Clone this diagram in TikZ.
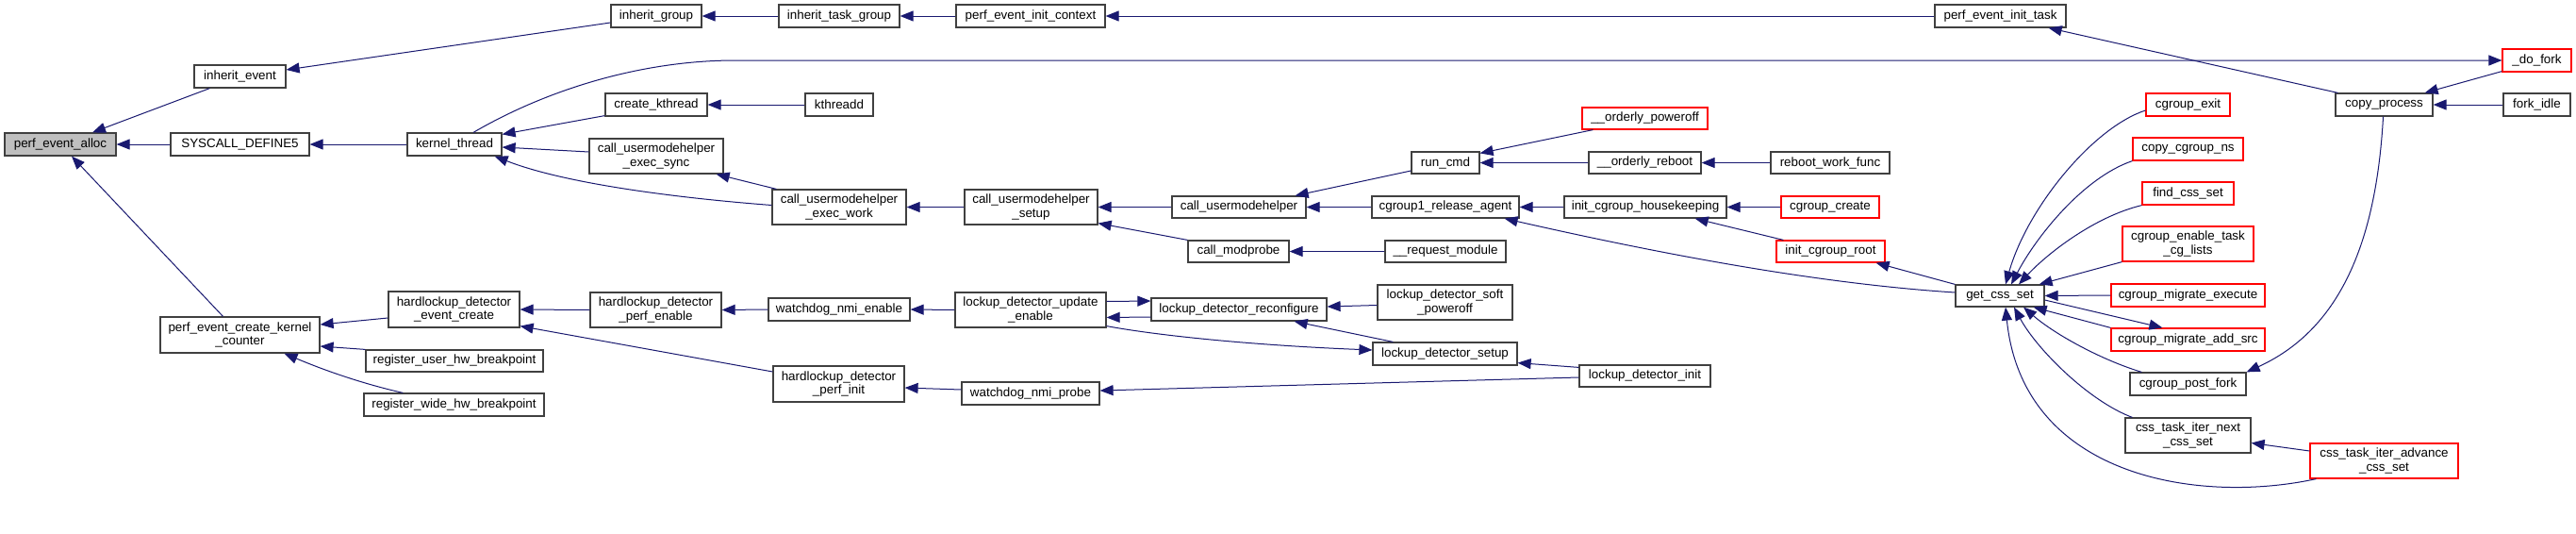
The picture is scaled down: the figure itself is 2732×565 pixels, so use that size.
\documentclass[tikz,border=0pt]{standalone}
\usepackage{fontspec}
\setmainfont{Liberation Sans}
\usetikzlibrary{arrows.meta,calc}
\definecolor{edgec}{HTML}{191970}
\definecolor{boxc}{HTML}{404040}
\definecolor{fillc}{HTML}{BFBFBF}
\newcommand\gn[7]{\node[#2, minimum width=#5pt, minimum height=#6pt] (#1) at (#3,#4) {#7};}
\tikzset{
 box/.style={draw=boxc, line width=1.2pt, inner sep=0pt, font=\fontsize{13.4}{14.5}\selectfont, align=center, fill=white},
 hl/.style={box, fill=fillc},
 rbox/.style={box, draw=red},
 arr/.style={draw=edgec, line width=1pt, -{Triangle[length=14pt,width=11pt]}},
}
\begin{document}
\begin{tikzpicture}[x=1pt,y=-1pt]
\useasboundingbox[fill=white] (0,0) rectangle (2732,565);
% column 1
\gn{pea}{hl}{64}{153}{118}{24}{perf\_event\_alloc}
% column 2
\gn{ie}{box}{254.5}{81}{97}{24}{inherit\_event}
\gn{sys}{box}{254.5}{153}{147}{24}{SYSCALL\_DEFINE5}
\gn{pekc}{box}{254.5}{355}{169}{38}{perf\_event\_create\_kernel\\\_counter}
% column 3
\gn{kt}{box}{482}{153}{100}{24}{kernel\_thread}
\gn{hdec}{box}{481.5}{328}{139}{38}{hardlockup\_detector\\\_event\_create}
\gn{ruhb}{box}{482}{382.5}{188}{23}{register\_user\_hw\_breakpoint}
\gn{rwhb}{box}{481.5}{429}{191}{24}{register\_wide\_hw\_breakpoint}
% column 4
\gn{ig}{box}{696}{17}{96}{24}{inherit\_group}
\gn{ck}{box}{696}{111}{108}{24}{create\_kthread}
\gn{cues}{box}{696}{165.5}{142}{37}{call\_usermodehelper\\\_exec\_sync}
\gn{hdpe}{box}{695.5}{328.5}{139}{37}{hardlockup\_detector\\\_perf\_enable}
% column 5
\gn{itg}{box}{890}{17}{128}{24}{inherit\_task\_group}
\gn{kd}{box}{890}{111}{72}{24}{kthreadd}
\gn{cuew}{box}{890}{219.5}{142}{37}{call\_usermodehelper\\\_exec\_work}
\gn{wne}{box}{890}{328}{150}{24}{watchdog\_nmi\_enable}
\gn{hdpi}{box}{889.5}{407}{139}{38}{hardlockup\_detector\\\_perf\_init}
% column 6
\gn{peic}{box}{1093}{17}{158}{24}{perf\_event\_init\_context}
\gn{cus}{box}{1093.5}{219.5}{141}{37}{call\_usermodehelper\\\_setup}
\gn{ldue}{box}{1093}{328.5}{160}{37}{lockup\_detector\_update\\\_enable}
\gn{wnp}{box}{1093}{417}{146}{24}{watchdog\_nmi\_probe}
% column 7
\gn{cu}{box}{1314}{219.5}{142}{23}{call\_usermodehelper}
\gn{cm}{box}{1313.5}{266.5}{107}{23}{call\_modprobe}
\gn{ldr}{box}{1314}{328}{186}{24}{lockup\_detector\_reconfigure}
% column 8
\gn{rc}{box}{1533}{172.5}{72}{23}{run\_cmd}
\gn{cra}{box}{1533}{219.5}{156}{23}{cgroup1\_release\_agent}
\gn{rm}{box}{1533}{266.5}{128}{23}{\_\_request\_module}
\gn{ldsp}{box}{1532.5}{320.5}{143}{37}{lockup\_detector\_soft\\\_poweroff}
\gn{lds}{box}{1532.5}{375}{153}{24}{lockup\_detector\_setup}
% column 9
\gn{op}{rbox}{1744.5}{125.5}{133}{23}{\_\_orderly\_poweroff}
\gn{orb}{box}{1744.5}{172.5}{119}{23}{\_\_orderly\_reboot}
\gn{ich}{box}{1745}{219.5}{172}{23}{init\_cgroup\_housekeeping}
\gn{ldi}{box}{1744.5}{398.5}{139}{23}{lockup\_detector\_init}
% column 10
\gn{rwf}{box}{1941}{172.5}{126}{23}{reboot\_work\_func}
\gn{cc}{rbox}{1941}{219.5}{104}{23}{cgroup\_create}
\gn{icr}{rbox}{1941.5}{266.5}{115}{23}{init\_cgroup\_root}
% column 11
\gn{peit}{box}{2121.5}{17}{139}{24}{perf\_event\_init\_task}
\gn{gcs}{box}{2121}{313.5}{94}{23}{get\_css\_set}
% column 12
\gn{ce}{rbox}{2320.5}{111}{89}{24}{cgroup\_exit}
\gn{ccn}{rbox}{2320.5}{158}{117}{24}{copy\_cgroup\_ns}
\gn{fcs}{rbox}{2320.5}{205}{97}{24}{find\_css\_set}
\gn{cetcl}{rbox}{2320.5}{258.5}{139}{37}{cgroup\_enable\_task\\\_cg\_lists}
\gn{cme}{rbox}{2320.5}{313}{163}{24}{cgroup\_migrate\_execute}
\gn{cmas}{rbox}{2320.5}{360}{163}{24}{cgroup\_migrate\_add\_src}
\gn{cpf}{box}{2320.5}{407}{123}{24}{cgroup\_post\_fork}
\gn{ctin}{box}{2320.5}{461.5}{133}{37}{css\_task\_iter\_next\\\_css\_set}
% column 13
\gn{cp}{box}{2528.5}{111}{103}{24}{copy\_process}
\gn{ctia}{rbox}{2528.5}{488.5}{157}{37}{css\_task\_iter\_advance\\\_css\_set}
% column 14
\gn{df}{rbox}{2690.5}{64}{73}{24}{\_do\_fork}
\gn{fi}{box}{2690.5}{111}{71}{24}{fork\_idle}

% edges
\draw[arr] ($(ie.south west)+(17,0)$) -- ($(pea.north)+(34,0)$);
\draw[arr] (sys.west) -- (pea.east);
\draw[arr] ($(pekc.north)+(-18,0)$) -- ($(pea.south)+(12,0)$);
\draw[arr] ($(ig.west)+(0,7)$) -- ($(ie.east)+(0,-7)$);
\draw[arr] (itg.west) -- (ig.east);
\draw[arr] (peic.west) -- (itg.east);
\draw[arr] (peit.west) -- (peic.east);
\draw[arr] ($(cp.north west)+(3,0)$) -- ($(peit.south east)+(-19,0)$);
\draw[arr] ($(df.south west)+(0,-1)$) -- ($(cp.north east)+(-9,0)$);
\draw[arr] (fi.west) -- (cp.east);
\draw[arr] (kt.west) -- (sys.east);
\draw[arr] ($(kt.north)+(20,0)$) .. controls (580,95) and (680,64) .. (780,64) -- (df.west);
\draw[arr] ($(ck.south west)+(0,-1)$) -- ($(kt.north east)+(0,2)$);
\draw[arr] ($(cues.west)+(0,-4.5)$) -- ($(kt.east)+(0,3)$);
\draw[arr] ($(cuew.west)+(0,-2)$) .. controls (720,210) and (600,195) .. ($(kt.south east)+(-8,0)$);
\draw[arr] (kd.west) -- (ck.east);
\draw[arr] ($(cuew.north west)+(5,0)$) -- ($(cues.south east)+(-8,0)$);
\draw[arr] (cus.west) -- (cuew.east);
\draw[arr] (cu.west) -- (cus.east);
\draw[arr] (cm.north west) -- ($(cus.south east)+(0,-2)$);
\draw[arr] ($(rc.west)+(0,8.5)$) -- ($(cu.north east)+(-12,0)$);
\draw[arr] (cra.west) -- (cu.east);
\draw[arr] (rm.west) -- (cm.east);
\draw[arr] ($(op.south west)+(12,0)$) -- ($(rc.north east)+(0,2)$);
\draw[arr] (orb.west) -- (rc.east);
\draw[arr] (rwf.west) -- (orb.east);
\draw[arr] (ich.west) -- (cra.east);
\draw[arr] ($(gcs.west)+(0,-3.5)$) .. controls (1950,302) and (1800,278) .. ($(cra.south east)+(-16,0)$);
\draw[arr] (cc.west) -- (ich.east);
\draw[arr] ($(icr.north west)+(8,0)$) -- ($(ich.south east)+(-34,0)$);
\draw[arr] (gcs.north west) -- ($(icr.south east)+(-10,0)$);
% get_css_set callers
\draw[arr] ($(ce.west)+(0,6)$) .. controls (2220,135) and (2150,220) .. ($(gcs.north)+(6,0)$);
\draw[arr] (ccn.south west) .. controls (2210,188) and (2160,250) .. ($(gcs.north)+(12,0)$);
\draw[arr] (fcs.south west) .. controls (2220,230) and (2170,270) .. ($(gcs.north)+(20,0)$);
\draw[arr] (cetcl.south west) -- ($(gcs.north east)+(-6,0)$);
\draw[arr] (cme.west) -- (gcs.east);
\draw[arr] ($(gcs.east)+(0,4.5)$) -- ($(cmas.north west)+(55,0)$);
\draw[arr] (cmas.north west) -- ($(gcs.south east)+(-12,0)$);
\draw[arr] ($(cpf.north west)+(13,0)$) .. controls (2230,382) and (2180,355) .. ($(gcs.south)+(25,0)$);
\draw[arr] ($(ctin.north west)+(8,0)$) .. controls (2215,425) and (2160,370) .. ($(gcs.south)+(15,0)$);
\draw[arr] ($(ctia.south west)+(7,0)$) .. controls (2330,535) and (2145,505) .. ($(gcs.south)+(6,0)$);
\draw[arr] ($(cp.south)+(-1,0)$) .. controls (2520,260) and (2480,350) .. (cpf.north east);
\draw[arr] ($(ctia.west)+(0,-10.5)$) -- ($(ctin.east)+(0,8)$);
% lower part
\draw[arr] ($(hdec.west)+(0,9)$) -- ($(pekc.east)+(0,-11)$);
\draw[arr] (ruhb.north west) -- ($(pekc.east)+(0,12)$);
\draw[arr] ($(rwhb.north west)+(42,0)$) .. controls (390,408) and (350,395) .. ($(pekc.south)+(47,0)$);
\draw[arr] (hdpe.west) -- (hdec.east);
\draw[arr] ($(hdpi.west)+(0,-13)$) -- ($(hdec.south east)+(0,-2)$);
\draw[arr] (wne.west) -- (hdpe.east);
\draw[arr] (ldue.west) -- (wne.east);
\draw[arr] ($(ldue.east)+(0,-9)$) -- ($(ldr.west)+(0,-9)$);
\draw[arr] ($(ldr.west)+(0,8)$) -- ($(ldue.east)+(0,8)$);
\draw[arr] ($(ldue.south east)+(0,-2)$) .. controls (1230,356) and (1330,366) .. ($(lds.west)+(0,-4)$);
\draw[arr] ($(ldsp.west)+(0,3)$) -- ($(ldr.east)+(0,-3)$);
\draw[arr] ($(lds.north west)+(22,0)$) -- ($(ldr.south east)+(-35,0)$);
\draw[arr] ($(ldi.north west)+(0,3)$) -- ($(lds.south east)+(0,-3)$);
\draw[arr] ($(wnp.west)+(0,-4)$) -- ($(hdpi.east)+(0,4)$);
\draw[arr] ($(ldi.west)+(0,1.5)$) -- ($(wnp.east)+(0,-3)$);
\end{tikzpicture}
\end{document}
